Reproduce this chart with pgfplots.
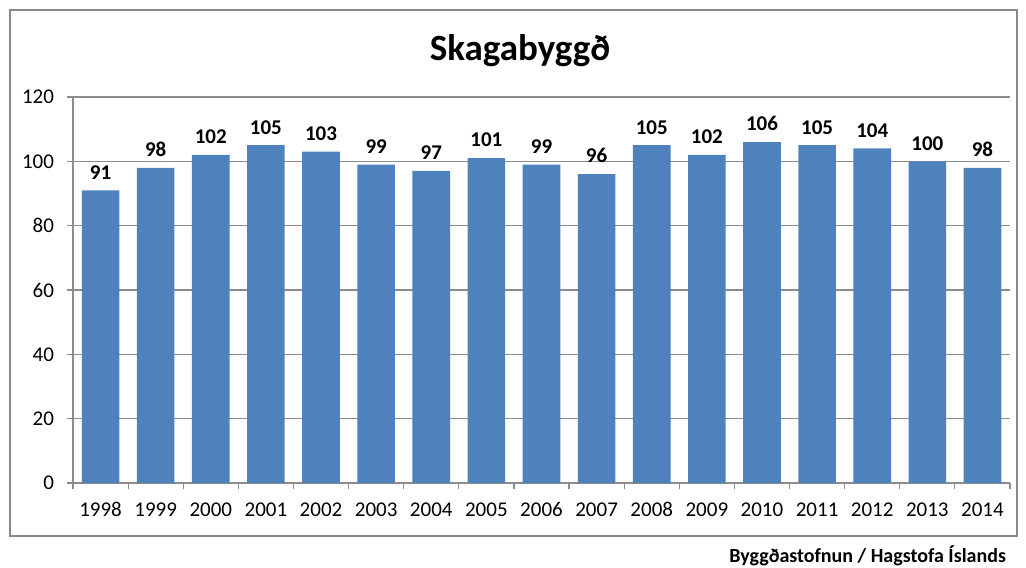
\documentclass[border=0pt]{standalone}
\usepackage{fontspec}
\setmainfont{Carlito}
\usepackage{pgfplots}
\pgfplotsset{compat=1.18}
\definecolor{barblue}{HTML}{4F81BD}
\definecolor{framegray}{HTML}{898989}
\definecolor{gridgray}{HTML}{8C8C8C}

\pgfplotstableread{
idx value
0 91
1 98
2 102
3 105
4 103
5 99
6 97
7 101
8 99
9 96
10 105
11 102
12 106
13 105
14 104
15 100
16 98
}\skagadata

\begin{document}
\begin{tikzpicture}
% picture box: reference pixels at 0.5pt each
\path[use as bounding box] (0pt,0pt) rectangle (513pt,283.5pt);
\draw[framegray, line width=0.6pt] (5pt,278.5pt) rectangle (508.5pt,15.5pt);
\node[font=\bfseries\fontsize{18.5}{22}\selectfont] at (260pt,258pt) {Skagabyggð};
\node[font=\bfseries\fontsize{10}{12}\selectfont, anchor=east] at (506.5pt,5.5pt) {Byggðastofnun / Hagstofa Íslands};

\begin{axis}[
    at={(36.5pt,42pt)}, anchor=south west,
    scale only axis,
    width=468.5pt, height=193pt,
    ybar, bar width=18.8pt,
    xmin=-0.5, xmax=16.5,
    ymin=0, ymax=120,
    ytick={0,20,...,120},
    xtick={0,...,16},
    xticklabels={1998,1999,2000,2001,2002,2003,2004,2005,2006,2007,2008,2009,2010,2011,2012,2013,2014},
    minor xtick={-0.5,0.5,...,16.5},
    major x tick style={draw=none},
    minor tick length=3pt,
    major tick length=3pt,
    tick align=outside,
    tick style={gridgray, line width=0.6pt},
    axis x line*=bottom, axis y line*=left,
    axis line style={gridgray, line width=0.6pt, -},
    ymajorgrids, grid style={gridgray, line width=0.6pt},
    yticklabel style={font=\fontsize{10.5}{12}\selectfont, xshift=-3pt},
    xticklabel style={font=\fontsize{10.5}{12}\selectfont, text height=7pt, text depth=0pt, yshift=-3pt},
    /pgf/number format/assume math mode=true,
    nodes near coords,
    nodes near coords style={font=\bfseries\fontsize{10.5}{12}\selectfont, black, yshift=2pt},
]
\addplot[fill=barblue, draw=none] table[x=idx, y=value] {\skagadata};
\end{axis}
\end{tikzpicture}
\end{document}
